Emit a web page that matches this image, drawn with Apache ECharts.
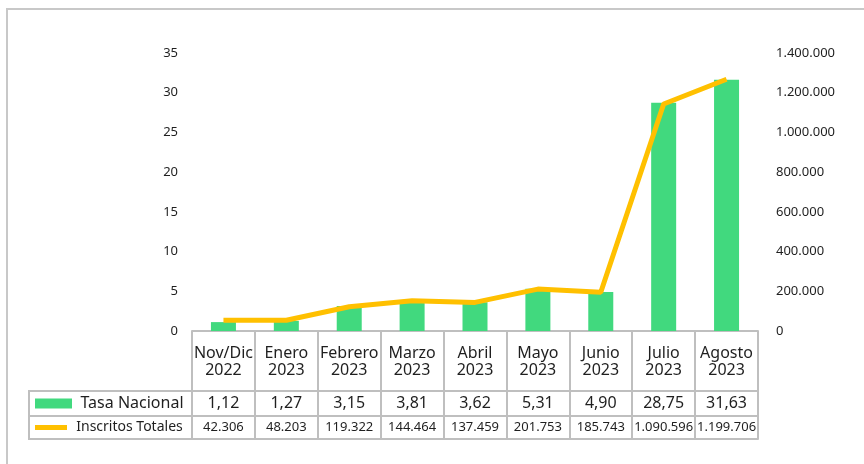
<!DOCTYPE html>
<html>
<head>
<meta charset="utf-8">
<script src="https://cdn.jsdelivr.net/npm/echarts@6/dist/echarts.min.js"></script>
<style>
  html, body {margin:0;padding:0;background:#fff;}
  #chart {width:864px;height:464px;}
  .frame {position:absolute;left:6px;top:8px;right:0;bottom:0;
    border-top:2px solid #c8c8c8;border-left:2px solid #c8c8c8;pointer-events:none;}
</style>
</head>
<body>
<div id="chart"></div>
<div class="frame"></div>
<script>
// categorias (cabecera de la tabla)
var meses = ['Nov/Dic\n2022', 'Enero\n2023', 'Febrero\n2023', 'Marzo\n2023', 'Abril\n2023',
             'Mayo\n2023', 'Junio\n2023', 'Julio\n2023', 'Agosto\n2023'];
// barras: tasa nacional
var tasa = [1.12, 1.27, 3.15, 3.81, 3.62, 5.31, 4.90, 28.75, 31.63];
// linea: inscritos totales
var inscritos = [54000, 54000, 122000, 152000, 144000, 211000, 195000, 1143000, 1268000];
// filas de la tabla
var tablaTasa = ['1,12', '1,27', '3,15', '3,81', '3,62', '5,31', '4,90', '28,75', '31,63'];
var tablaInscritos = ['42.306', '48.203', '119.322', '144.464', '137.459', '201.753',
                      '185.743', '1.090.596', '1.199.706'];
var ticksIzq = [0, 35, 5];
var ticksDer = [0, 1400000, 200000];

var FONT = 'Noto Sans';
var GRIS = '#bfbfbf';
var TXT = '#1f1f1f';

function miles(v) {
    return String(v).replace(/\B(?=(\d{3})+(?!\d))/g, '.');
}

var chart = echarts.init(document.getElementById('chart'));

var filaBase = {
    type: 'category',
    gridIndex: 0,
    position: 'bottom',
    data: meses,
    axisLine: {show: true, onZero: false, lineStyle: {color: GRIS, width: 2}},
    axisTick: {show: false},
    nameLocation: 'start',
    nameGap: 0
};

var option = {
    animation: false,
    textStyle: {fontFamily: FONT},
    grid: {left: 192, right: 106, top: 53, bottom: 133},
    legend: {show: false},
    xAxis: [
        Object.assign({}, filaBase, {
            axisTick: {show: true, length: 108, interval: 0, lineStyle: {color: GRIS, width: 2}},
            axisLabel: {interval: 0, margin: 14, fontSize: 16, lineHeight: 17, color: TXT, fontFamily: FONT}
        }),
        Object.assign({}, filaBase, {
            offset: 60,
            data: tablaTasa,
            axisLabel: {interval: 0, margin: 3, fontSize: 16, lineHeight: 18, color: TXT, fontFamily: FONT},
            name: '{ico|}{t|Tasa Nacional}',
            nameTextStyle: {
                align: 'right', verticalAlign: 'top',
                height: 25, lineHeight: 25, padding: [0, 0, 0, 6],
                borderColor: GRIS, borderWidth: 2,
                rich: {
                    ico: {width: 37, height: 10, lineHeight: 25, verticalAlign: 'middle', backgroundColor: '#41d97e'},
                    t: {width: 120, align: 'left', fontSize: 16, lineHeight: 25, verticalAlign: 'middle', color: TXT, fontFamily: FONT}
                }
            }
        }),
        Object.assign({}, filaBase, {
            offset: 85,
            data: tablaInscritos,
            axisLabel: {interval: 0, margin: 3, fontSize: 13, lineHeight: 16, color: TXT, fontFamily: FONT},
            name: '{ico|}{t|Inscritos Totales}',
            nameTextStyle: {
                align: 'right', verticalAlign: 'top',
                height: 23, lineHeight: 23, padding: [0, 0, 0, 6],
                borderColor: GRIS, borderWidth: 2,
                rich: {
                    ico: {width: 32, height: 5, lineHeight: 23, verticalAlign: 'middle', backgroundColor: '#ffc000'},
                    t: {width: 125, align: 'left', fontSize: 14, lineHeight: 23, verticalAlign: 'middle', color: TXT, fontFamily: FONT}
                }
            }
        }),
        Object.assign({}, filaBase, {
            offset: 108,
            axisLabel: {show: false}
        })
    ],
    yAxis: [
        {
            type: 'value',
            min: ticksIzq[0], max: ticksIzq[1], interval: ticksIzq[2],
            axisLine: {show: false}, axisTick: {show: false}, splitLine: {show: false},
            axisLabel: {margin: 14, fontSize: 13, color: TXT, fontFamily: FONT}
        },
        {
            type: 'value',
            position: 'right',
            min: ticksDer[0], max: ticksDer[1], interval: ticksDer[2],
            axisLine: {show: false}, axisTick: {show: false}, splitLine: {show: false},
            axisLabel: {margin: 18, fontSize: 13, color: TXT, fontFamily: FONT, formatter: miles}
        }
    ],
    series: [
        {
            name: 'Tasa Nacional',
            type: 'bar',
            xAxisIndex: 0,
            yAxisIndex: 0,
            barWidth: 25,
            itemStyle: {color: '#41d97e'},
            data: tasa
        },
        {
            name: 'Inscritos Totales',
            type: 'line',
            xAxisIndex: 0,
            yAxisIndex: 1,
            showSymbol: false,
            symbol: 'none',
            lineStyle: {color: '#ffc000', width: 5},
            itemStyle: {color: '#ffc000'},
            z: 5,
            data: inscritos
        }
    ]
};

chart.setOption(option);
</script>
</body>
</html>
